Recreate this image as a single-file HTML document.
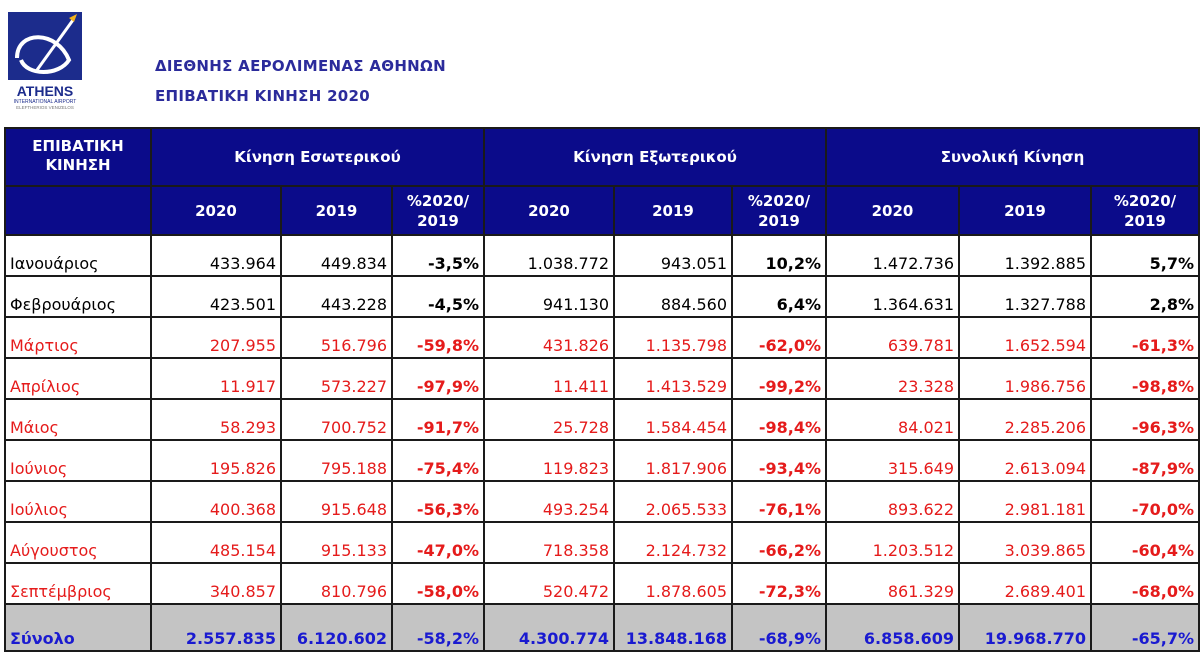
<!DOCTYPE html>
<html><head><meta charset="utf-8">
<style>
body{margin:0;width:1200px;height:660px;background:#fff;font-family:"DejaVu Sans","Liberation Sans",sans-serif;position:relative;overflow:hidden}
.t{position:absolute;left:155px;color:#2b2b9b;font-weight:bold;font-size:15px;letter-spacing:0.3px}
table{position:absolute;left:4px;top:127px;border-collapse:collapse;table-layout:fixed}
td{border:2px solid #1a1a1a;padding:0 4px 2px 4px;font-size:16px;white-space:nowrap;vertical-align:bottom;text-align:right;height:37px}
tr.h td{background:#0b0b8a;color:#fff;font-weight:bold;font-size:15px;text-align:center;vertical-align:middle;padding:0;border-color:#1a1a1a}
td.m{text-align:left}
tr.r td{color:#e51b1b}
td.b{font-weight:bold}
tr.s td{background:#c4c4c4;color:#1a1ad0;font-weight:bold;height:43px}
</style></head><body>
<svg style="position:absolute;left:7px;top:10px" width="78" height="100" viewBox="0 0 78 100">
<rect x="1" y="2" width="74" height="68" fill="#1c2c8c"/>
<path d="M10 48 C10 20 50 20 62 50 C52 66 20 66 14 50" fill="none" stroke="#fff" stroke-width="4"/>
<path d="M30 60 L66 10" stroke="#fff" stroke-width="3"/>
<path d="M62 8 l8 -4 l-3 8 z" fill="#f3b21b"/>
<text x="38" y="86" font-size="14" font-weight="bold" fill="#1c2c8c" text-anchor="middle" font-family="Liberation Sans">ATHENS</text>
<text x="38" y="93" font-size="5" fill="#1c2c8c" text-anchor="middle" font-family="Liberation Sans">INTERNATIONAL AIRPORT</text>
<text x="38" y="99" font-size="4.5" fill="#777" text-anchor="middle" font-family="Liberation Sans">ELEFTHERIOS VENIZELOS</text>
</svg>
<div class="t" style="top:57px">ΔΙΕΘΝΗΣ ΑΕΡΟΛΙΜΕΝΑΣ ΑΘΗΝΩΝ</div>
<div class="t" style="top:87px">ΕΠΙΒΑΤΙΚΗ ΚΙΝΗΣΗ 2020</div>
<table>
<colgroup><col style="width:146px"><col style="width:130px"><col style="width:111px"><col style="width:92px"><col style="width:130px"><col style="width:118px"><col style="width:94px"><col style="width:133px"><col style="width:132px"><col style="width:108px"></colgroup>
<tr class="h"><td style="height:48px;vertical-align:top;padding-top:8px;line-height:19px">ΕΠΙΒΑΤΙΚΗ<br>ΚΙΝΗΣΗ</td><td colspan="3">Κίνηση Εσωτερικού</td><td colspan="3">Κίνηση Εξωτερικού</td><td colspan="3">Συνολική Κίνηση</td></tr>
<tr class="h" style="line-height:20px"><td style="height:47px"></td><td>2020</td><td>2019</td><td>%2020/<br>2019</td><td>2020</td><td>2019</td><td>%2020/<br>2019</td><td>2020</td><td>2019</td><td>%2020/<br>2019</td></tr>
<tr><td class="m">Ιανουάριος</td><td>433.964</td><td>449.834</td><td class="b">-3,5%</td><td>1.038.772</td><td>943.051</td><td class="b">10,2%</td><td>1.472.736</td><td>1.392.885</td><td class="b">5,7%</td></tr>
<tr><td class="m">Φεβρουάριος</td><td>423.501</td><td>443.228</td><td class="b">-4,5%</td><td>941.130</td><td>884.560</td><td class="b">6,4%</td><td>1.364.631</td><td>1.327.788</td><td class="b">2,8%</td></tr>
<tr class="r"><td class="m">Μάρτιος</td><td>207.955</td><td>516.796</td><td class="b">-59,8%</td><td>431.826</td><td>1.135.798</td><td class="b">-62,0%</td><td>639.781</td><td>1.652.594</td><td class="b">-61,3%</td></tr>
<tr class="r"><td class="m">Απρίλιος</td><td>11.917</td><td>573.227</td><td class="b">-97,9%</td><td>11.411</td><td>1.413.529</td><td class="b">-99,2%</td><td>23.328</td><td>1.986.756</td><td class="b">-98,8%</td></tr>
<tr class="r"><td class="m">Μάιος</td><td>58.293</td><td>700.752</td><td class="b">-91,7%</td><td>25.728</td><td>1.584.454</td><td class="b">-98,4%</td><td>84.021</td><td>2.285.206</td><td class="b">-96,3%</td></tr>
<tr class="r"><td class="m">Ιούνιος</td><td>195.826</td><td>795.188</td><td class="b">-75,4%</td><td>119.823</td><td>1.817.906</td><td class="b">-93,4%</td><td>315.649</td><td>2.613.094</td><td class="b">-87,9%</td></tr>
<tr class="r"><td class="m">Ιούλιος</td><td>400.368</td><td>915.648</td><td class="b">-56,3%</td><td>493.254</td><td>2.065.533</td><td class="b">-76,1%</td><td>893.622</td><td>2.981.181</td><td class="b">-70,0%</td></tr>
<tr class="r"><td class="m">Αύγουστος</td><td>485.154</td><td>915.133</td><td class="b">-47,0%</td><td>718.358</td><td>2.124.732</td><td class="b">-66,2%</td><td>1.203.512</td><td>3.039.865</td><td class="b">-60,4%</td></tr>
<tr class="r"><td class="m">Σεπτέμβριος</td><td>340.857</td><td>810.796</td><td class="b">-58,0%</td><td>520.472</td><td>1.878.605</td><td class="b">-72,3%</td><td>861.329</td><td>2.689.401</td><td class="b">-68,0%</td></tr>
<tr class="s"><td class="m">Σύνολο</td><td>2.557.835</td><td>6.120.602</td><td>-58,2%</td><td>4.300.774</td><td>13.848.168</td><td>-68,9%</td><td>6.858.609</td><td>19.968.770</td><td>-65,7%</td></tr>
</table>
</body></html>
